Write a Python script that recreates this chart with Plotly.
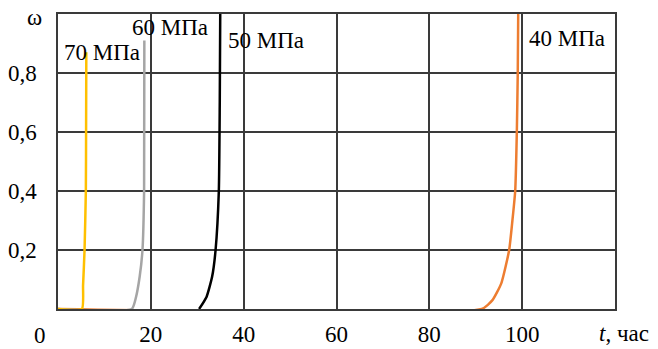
import plotly.graph_objects as go

# ---- data ----
t70 = [0, 5.15, 5.4, 5.72, 6.0, 6.05, 6.1]
w70 = [0, 0, 0.08, 0.2, 0.4, 0.6, 0.87]

t60 = [0, 15.9, 16.8, 17.6, 18.2, 18.55, 18.6]
w60 = [0, 0, 0.04, 0.11, 0.2, 0.4, 0.91]

t50 = [30.4, 32.0, 33.2, 33.95, 34.65, 34.85, 34.95]
w50 = [0, 0.041, 0.109, 0.2, 0.4, 0.7, 1.0]

t40 = [0, 91.3, 93.6, 95.5, 97.2, 97.9, 98.5, 98.85, 99.05, 99.15]
w40 = [0, 0, 0.03, 0.087, 0.2, 0.3, 0.4, 0.6, 0.8, 1.0]

x_ticks = [20, 40, 60, 80, 100]
x_ticklabels = ["20", "40", "60", "80", "100"]
y_ticks = [0.2, 0.4, 0.6, 0.8]
y_ticklabels = ["0,2", "0,4", "0,6", "0,8"]

labels = ["70 МПа", "60 МПа", "50 МПа", "40 МПа"]
label_x = [9.44, 24.2, 44.8, 109.7]
label_y = [0.87, 0.955, 0.91, 0.917]

FONT = "Liberation Serif"
FS = 23
GRID = "#3a3a3a"

fig = go.Figure()
fig.add_trace(go.Scatter(x=t40, y=w40, mode="lines", line=dict(color="#ED7D31", width=2.5, shape="spline", smoothing=0.5)))
fig.add_trace(go.Scatter(x=t50, y=w50, mode="lines", line=dict(color="#000000", width=2.5, shape="spline", smoothing=0.5)))
fig.add_trace(go.Scatter(x=t60, y=w60, mode="lines", line=dict(color="#A5A5A5", width=2.5, shape="spline", smoothing=0.5)))
fig.add_trace(go.Scatter(x=t70, y=w70, mode="lines", line=dict(color="#FFC000", width=2.5, shape="spline", smoothing=0.5)))

for txt, lx, ly in zip(labels, label_x, label_y):
    fig.add_annotation(x=lx, y=ly, text=txt, showarrow=False,
                       font=dict(family=FONT, size=FS, color="black"),
                       xanchor="center", yanchor="middle")

fig.add_annotation(x=0, y=0, xref="paper", yref="paper", text="0", showarrow=False,
                   xanchor="center", yanchor="middle",
                   xshift=-18, yshift=-26, font=dict(family=FONT, size=FS, color="black"))
fig.add_annotation(x=0, y=1, xref="paper", yref="paper", text="ω", showarrow=False,
                   xanchor="center", yanchor="middle",
                   xshift=-24, yshift=-3, font=dict(family=FONT, size=FS, color="black"))
fig.add_annotation(x=1, y=0, xref="paper", yref="paper", text="<i>t</i>, час", showarrow=False,
                   xanchor="center", yanchor="middle",
                   xshift=9, yshift=-24,
                   font=dict(family=FONT, size=FS, color="black"))

fig.update_layout(
    width=658, height=349,
    margin=dict(l=58, r=43, t=14, b=40, autoexpand=False),
    paper_bgcolor="white", plot_bgcolor="white",
    showlegend=False,
    font=dict(family=FONT, size=FS, color="black"),
)
fig.update_xaxes(range=[0, 120], tickvals=x_ticks, ticktext=x_ticklabels,
                 showgrid=True, gridcolor=GRID, gridwidth=1.5,
                 showline=True, linecolor=GRID, linewidth=1.5, mirror=True,
                 zeroline=False, ticks="", ticklabelstandoff=4, layer="below traces",
                 automargin=False, tickfont=dict(family=FONT, size=FS, color="black"))
fig.update_yaxes(range=[0, 1], tickvals=y_ticks, ticktext=y_ticklabels,
                 showgrid=True, gridcolor=GRID, gridwidth=1.5,
                 showline=True, linecolor=GRID, linewidth=1.5, mirror=True,
                 zeroline=False, ticks="", ticklabelstandoff=15, layer="below traces",
                 automargin=False, tickfont=dict(family=FONT, size=FS, color="black"))

fig.write_html("out.html")
